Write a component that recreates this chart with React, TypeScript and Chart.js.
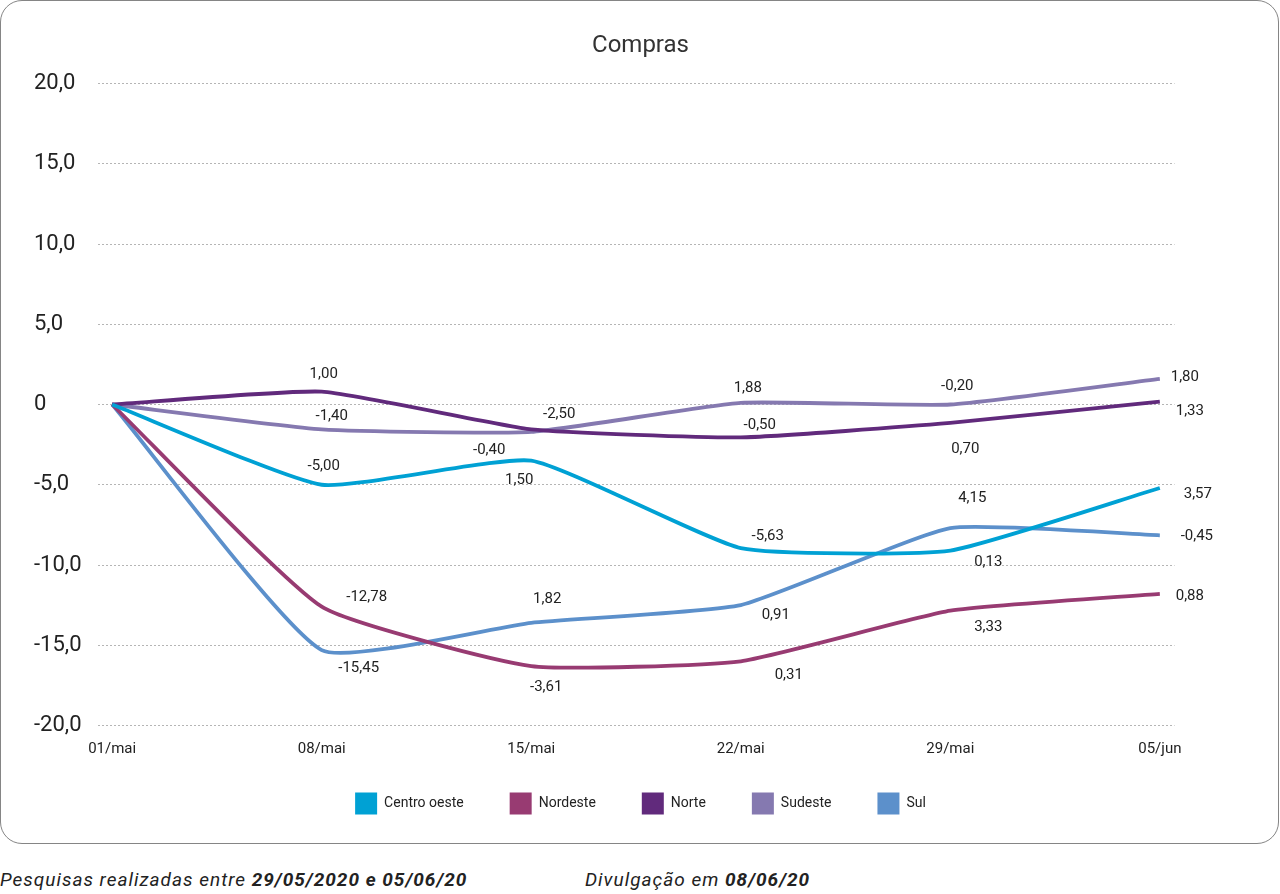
import React, { useEffect, useRef } from 'react';
import { Chart, registerables } from 'chart.js';

Chart.register(...registerables);

const TITLE = 'Compras';
const DATES = ['01/mai', '08/mai', '15/mai', '22/mai', '29/mai', '05/jun'];
const SERIES_NAMES = ['Centro oeste', 'Nordeste', 'Norte', 'Sudeste', 'Sul'];

// cumulative index (line positions)
const CENTRO_OESTE = [0, -5.0, -3.5, -8.95, -9.1, -5.2];
const NORDESTE = [0, -12.6, -16.3, -16.0, -12.85, -11.8];
const NORTE = [0, 0.8, -1.55, -2.05, -1.15, 0.18];
const SUDESTE = [0, -1.55, -1.7, 0.1, 0.0, 1.6];
const SUL = [0, -15.3, -13.6, -12.5, -7.7, -8.15];

// weekly changes shown as point labels
const CENTRO_OESTE_VAR = [null, -5.0, 1.5, -5.63, 0.13, 3.57];
const NORDESTE_VAR = [null, -12.78, -3.61, 0.31, 3.33, 0.88];
const NORTE_VAR = [null, 1.0, -2.5, -0.5, 0.7, 1.33];
const SUDESTE_VAR = [null, -1.4, -0.4, 1.88, -0.2, 1.8];
const SUL_VAR = [null, -15.45, 1.82, 0.91, 4.15, -0.45];

const Y_TICKS = [-20, -15, -10, -5, 0, 5, 10, 15, 20];

const COLORS = ['#00a1d4', '#983b72', '#612a7c', '#8579b0', '#5c90cb'];

// label offsets (dx, dy) in px relative to each point – styling only
const LABEL_OFFSETS: number[][][] = [
  [[0, 0], [2, -19], [-12, 20], [27, -12], [38, 12], [38, 6]],
  [[0, 0], [45, -9], [15, 21], [48, 14], [38, 17], [30, 2]],
  [[0, 0], [2, -17], [28, -15], [19, -12], [15, 26], [30, 10]],
  [[0, 0], [10, -13], [-42, 18], [7, -15], [7, -18], [25, -2]],
  [[0, 0], [37, 18], [16, -24], [35, 10], [22, -30], [37, 1]],
];

const FONT = 'Roboto, "Noto Sans", sans-serif';

const fmt = (v: number) => v.toFixed(2).replace('.', ',');

export default function App() {
  const ref = useRef<HTMLCanvasElement>(null);

  useEffect(() => {
    document.body.style.margin = '0';
    if (!ref.current) return;
    const values = [CENTRO_OESTE, NORDESTE, NORTE, SUDESTE, SUL];
    const changes = [CENTRO_OESTE_VAR, NORDESTE_VAR, NORTE_VAR, SUDESTE_VAR, SUL_VAR];

    const labelPlugin = {
      id: 'pointLabels',
      afterLayout(chart: any) {
        // pull the legend up closer to the axis labels (its top padding doubles as item spacing)
        if (chart.legend) {
          chart.legend.top -= 12;
          chart.legend.bottom -= 12;
        }
      },
      afterDatasetsDraw(chart: any) {
        const ctx = chart.ctx;
        ctx.save();
        ctx.font = `15px ${FONT}`;
        ctx.fillStyle = '#222';
        ctx.textAlign = 'center';
        ctx.textBaseline = 'middle';
        chart.data.datasets.forEach((_ds: any, di: number) => {
          const meta = chart.getDatasetMeta(di);
          meta.data.forEach((pt: any, i: number) => {
            const v = changes[di][i];
            if (v === null || v === undefined) return;
            const [dx, dy] = LABEL_OFFSETS[di][i];
            ctx.fillText(fmt(v), pt.x + dx, pt.y + dy);
          });
        });
        ctx.restore();
      },
    };

    const chart = new Chart(ref.current, {
      type: 'line',
      data: {
        datasets: SERIES_NAMES.map((name, di) => ({
          label: name,
          data: values[di].map((y, i) => ({ x: i, y })),
          borderColor: COLORS[di],
          backgroundColor: COLORS[di],
          borderWidth: 3.8,
          pointRadius: 0,
          tension: 0.15,
          fill: false,
        })),
      },
      options: {
        animation: false,
        responsive: true,
        maintainAspectRatio: false,
        layout: { padding: { top: 31, left: 33, right: 30, bottom: 5.5 } },
        plugins: {
          title: {
            display: true,
            text: TITLE,
            color: '#333',
            font: { family: FONT, size: 24, weight: 'normal' as any },
            padding: { top: 0, bottom: 22.7 },
          },
          legend: {
            position: 'bottom',
            labels: {
              font: { family: FONT, size: 14 },
              color: '#222',
              boxWidth: 22,
              boxHeight: 22,
              padding: 46,
              generateLabels: (c: any) =>
                (Chart.defaults.plugins.legend.labels.generateLabels as any)(c).map((l: any) => ({
                  ...l,
                  lineWidth: 0,
                  strokeStyle: 'rgba(0,0,0,0)',
                })),
            },
          },
          tooltip: { enabled: false },
        },
        scales: {
          x: {
            type: 'linear',
            min: -0.07,
            max: DATES.length - 1 + 0.07,
            grid: { display: false },
            border: { display: false },
            afterBuildTicks: (scale: any) => {
              scale.ticks = DATES.map((_, i) => ({ value: i }));
            },
            afterFit: (scale: any) => {
              scale.height = 33;
            },
            ticks: {
              autoSkip: false,
              maxRotation: 0,
              padding: 7,
              color: '#222',
              font: { family: FONT, size: 15 },
              callback: (v: any) => DATES[v as number] ?? '',
            },
          },
          y: {
            min: Y_TICKS[0],
            max: Y_TICKS[Y_TICKS.length - 1],
            afterBuildTicks: (scale: any) => {
              scale.ticks = Y_TICKS.map((v) => ({ value: v }));
            },
            afterFit: (scale: any) => {
              scale.width = 63.5;
            },
            grid: { color: '#b5b5b5', lineWidth: 1, drawTicks: false },
            border: { display: false, dash: [2, 2] },
            ticks: {
              crossAlign: 'far',
              color: '#222',
              font: { family: FONT, size: 22 },
              callback: (v: any) => (v === 0 ? '0' : Number(v).toFixed(1).replace('.', ',')),
            },
          },
          yRight: {
            position: 'right',
            display: true,
            grid: { display: false },
            border: { display: false },
            ticks: { display: false },
            afterFit: (scale: any) => {
              scale.width = 72.5;
            },
          },
        },
      },
      plugins: [labelPlugin],
    } as any);
    return () => chart.destroy();
  }, []);

  const footStyle: React.CSSProperties = {
    position: 'absolute',
    top: 868,
    height: 24,
    lineHeight: '24px',
    fontSize: 19,
    fontStyle: 'italic',
    color: '#222',
    letterSpacing: 1,
    whiteSpace: 'nowrap',
  };

  return (
    <div style={{ position: 'relative', width: 1280, height: 894, background: '#fff', fontFamily: FONT }}>
      <div
        style={{
          position: 'absolute',
          left: 0,
          top: 0,
          width: 1279,
          height: 844,
          boxSizing: 'border-box',
          border: '1.5px solid #858585',
          borderRadius: 22,
          overflow: 'hidden',
        }}
      >
        <div style={{ position: 'relative', width: 1276, height: 841 }}>
          <canvas ref={ref} />
        </div>
      </div>
      <div style={{ ...footStyle, left: 0 }}>
        Pesquisas realizadas entre <b>29/05/2020 e 05/06/20</b>
      </div>
      <div style={{ ...footStyle, left: 585 }}>
        Divulgação em <b>08/06/20</b>
      </div>
    </div>
  );
}
